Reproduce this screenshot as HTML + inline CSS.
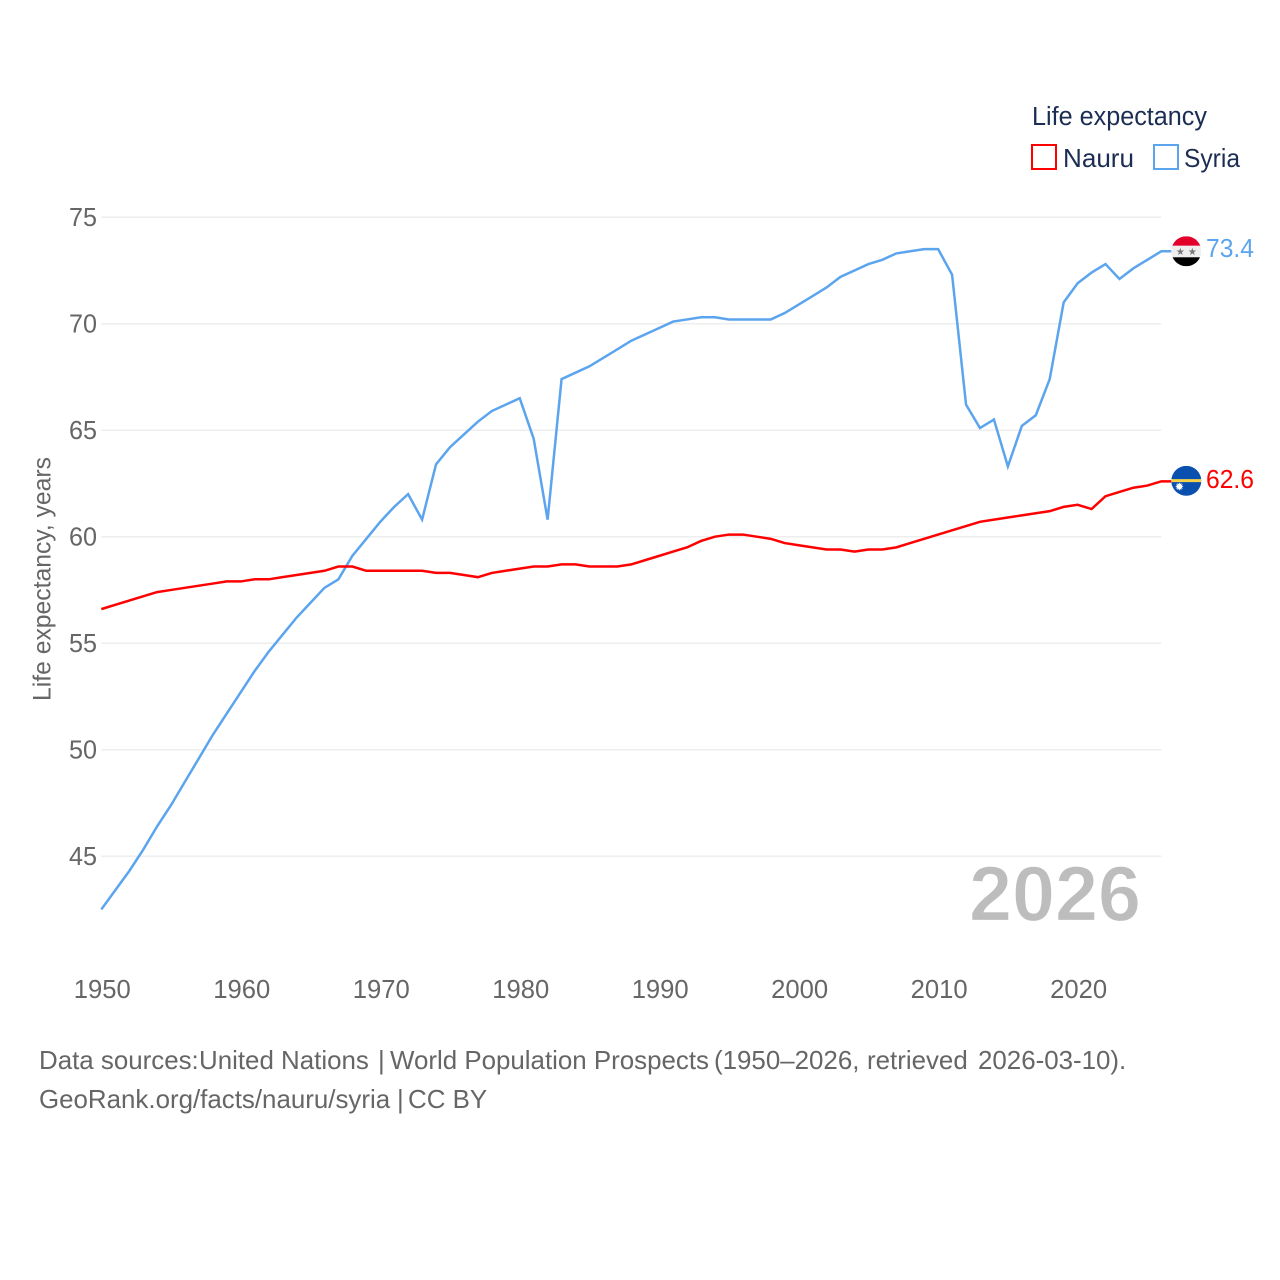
<!DOCTYPE html>
<html lang="en">
<head>
<meta charset="utf-8">
<title>Life expectancy: Nauru and Syria</title>
<style>
html,body{margin:0;padding:0;background:#fff;}
svg{display:block;}
text{font-family:"Liberation Sans",sans-serif;}
</style>
</head>
<body>
<svg id="chart" xmlns="http://www.w3.org/2000/svg" width="1280" height="1280" viewBox="0 0 1280 1280">
  <rect x="0" y="0" width="1280" height="1280" fill="#ffffff"/>
  <g id="grid"></g>
  <g id="yticks"></g>
  <g id="xticks"></g>
  <text transform="translate(50.5,701) rotate(-90)" font-size="25" fill="#666666" textLength="244" lengthAdjust="spacingAndGlyphs">Life expectancy, years</text>
  <text x="969" y="920.5" font-size="78" font-weight="700" fill="#bdbdbd" stroke="#ffffff" stroke-width="1.2" textLength="172" lengthAdjust="spacingAndGlyphs">2026</text>
  <g id="series"></g>
  <g id="flags"></g>
  <g>
    <text x="1032" y="125" font-size="25.5" fill="#1b2d52" textLength="175" lengthAdjust="spacingAndGlyphs">Life expectancy</text>
    <rect x="1032" y="145" width="24" height="24" fill="#ffffff" stroke="#ff0000" stroke-width="2"/>
    <text x="1063" y="167" font-size="26" fill="#1b2d52" textLength="71" lengthAdjust="spacingAndGlyphs">Nauru</text>
    <rect x="1154" y="145" width="24" height="24" fill="#ffffff" stroke="#5ba4ee" stroke-width="2"/>
    <text x="1184" y="167" font-size="26" fill="#1b2d52" textLength="56" lengthAdjust="spacingAndGlyphs">Syria</text>
  </g>
  <text y="1069" font-size="25.9" fill="#666666"><tspan x="39">Data sources: </tspan><tspan x="199">United Nations </tspan><tspan x="378">| </tspan><tspan x="390">World Population Prospects </tspan><tspan x="714">(1950–2026, </tspan><tspan x="867">retrieved </tspan><tspan x="978">2026-03-10).</tspan></text>
  <text y="1108" font-size="25.9" fill="#666666"><tspan x="39">GeoRank.org/facts/nauru/syria </tspan><tspan x="397">| </tspan><tspan x="408">CC BY</tspan></text>
</svg>
<script>
const years = [1950,1951,1952,1953,1954,1955,1956,1957,1958,1959,1960,1961,1962,1963,1964,1965,1966,1967,1968,1969,1970,1971,1972,1973,1974,1975,1976,1977,1978,1979,1980,1981,1982,1983,1984,1985,1986,1987,1988,1989,1990,1991,1992,1993,1994,1995,1996,1997,1998,1999,2000,2001,2002,2003,2004,2005,2006,2007,2008,2009,2010,2011,2012,2013,2014,2015,2016,2017,2018,2019,2020,2021,2022,2023,2024,2025,2026];
const syriaValues = [42.5,43.4,44.3,45.3,46.4,47.4,48.5,49.6,50.7,51.7,52.7,53.7,54.6,55.4,56.2,56.9,57.6,58.0,59.1,59.9,60.7,61.4,62.0,60.8,63.4,64.2,64.8,65.4,65.9,66.2,66.5,64.6,60.8,67.4,67.7,68.0,68.4,68.8,69.2,69.5,69.8,70.1,70.2,70.3,70.3,70.2,70.2,70.2,70.2,70.5,70.9,71.3,71.7,72.2,72.5,72.8,73.0,73.3,73.4,73.5,73.5,72.3,66.2,65.1,65.5,63.3,65.2,65.7,67.4,71.0,71.9,72.4,72.8,72.1,72.6,73.0,73.4];
const nauruValues = [56.6,56.8,57.0,57.2,57.4,57.5,57.6,57.7,57.8,57.9,57.9,58.0,58.0,58.1,58.2,58.3,58.4,58.6,58.6,58.4,58.4,58.4,58.4,58.4,58.3,58.3,58.2,58.1,58.3,58.4,58.5,58.6,58.6,58.7,58.7,58.6,58.6,58.6,58.7,58.9,59.1,59.3,59.5,59.8,60.0,60.1,60.1,60.0,59.9,59.7,59.6,59.5,59.4,59.4,59.3,59.4,59.4,59.5,59.7,59.9,60.1,60.3,60.5,60.7,60.8,60.9,61.0,61.1,61.2,61.4,61.5,61.3,61.9,62.1,62.3,62.4,62.6];
const yTickValues = [45,50,55,60,65,70,75];
const xTickValues = [1950,1960,1970,1980,1990,2000,2010,2020];

const SVG_NS = 'http://www.w3.org/2000/svg';
const plotLeft = 101.3, plotRight = 1161.3;
const yTop = 217.2, yBottom = 856.2;
const xScale = year => plotLeft + (year - years[0]) * (plotRight - plotLeft) / (years[years.length - 1] - years[0]);
const yScale = value => yTop + (75 - value) * (yBottom - yTop) / 30;

function make(tag, attrs, parent, content) {
  const el = document.createElementNS(SVG_NS, tag);
  for (const key in attrs) el.setAttribute(key, attrs[key]);
  if (content !== undefined) el.textContent = content;
  parent.appendChild(el);
  return el;
}

const gridGroup = document.getElementById('grid');
const yTickGroup = document.getElementById('yticks');
yTickValues.forEach(v => {
  const line = make('line', {x1: plotLeft, x2: plotRight, y1: yScale(v), y2: yScale(v), stroke: '#eeeeee', 'stroke-width': 1.5}, gridGroup);
  
  
  const label = make('text', {x: 69, y: yScale(v) + 9, 'font-size': 26, fill: '#666666', textLength: 28, lengthAdjust: 'spacingAndGlyphs'}, yTickGroup, String(v));
  
  
});

const xTickGroup = document.getElementById('xticks');
xTickValues.forEach(year => {
  const label = make('text', {x: xScale(year) + 1, y: 998, 'text-anchor': 'middle', 'font-size': 26, fill: '#666666', textLength: 57, lengthAdjust: 'spacingAndGlyphs'}, xTickGroup, String(year));
  
  
});

const seriesGroup = document.getElementById('series');
function linePoints(values) {
  const pts = values.map((v, i) => xScale(years[i]).toFixed(2) + ',' + yScale(v).toFixed(2));
  const last = values[values.length - 1];
  pts.push((plotRight + 10) + ',' + yScale(last).toFixed(2));
  return pts.join(' ');
}
const syriaLine = make('polyline', {points: linePoints(syriaValues), fill: 'none', stroke: '#5ba4ee', 'stroke-width': 2.5, 'stroke-linejoin': 'miter'}, seriesGroup);


const nauruLine = make('polyline', {points: linePoints(nauruValues), fill: 'none', stroke: '#ff0000', 'stroke-width': 2.5, 'stroke-linejoin': 'miter'}, seriesGroup);



const flagGroup = document.getElementById('flags');
const flagX = 1186.3, flagR = 15;
const defs = make('defs', {}, flagGroup);
const syriaLast = syriaValues[syriaValues.length - 1];
const nauruLast = nauruValues[nauruValues.length - 1];
const syriaY = yScale(syriaLast);
const nauruY = yScale(nauruLast) - 0.5;
const clipS = make('clipPath', {id: 'clip-syria'}, defs);
make('circle', {cx: flagX, cy: syriaY, r: flagR}, clipS);
const clipN = make('clipPath', {id: 'clip-nauru'}, defs);
make('circle', {cx: flagX, cy: nauruY, r: flagR}, clipN);

const syriaFlag = make('g', {'clip-path': 'url(#clip-syria)'}, flagGroup);


make('rect', {x: flagX - flagR, y: syriaY - flagR, width: 30, height: 9.5, fill: '#e2002b'}, syriaFlag);
make('rect', {x: flagX - flagR, y: syriaY - 5.5, width: 30, height: 11.5, fill: '#eeeeee'}, syriaFlag);
make('rect', {x: flagX - flagR, y: syriaY + 6, width: 30, height: 9, fill: '#000000'}, syriaFlag);
make('text', {x: flagX - 6, y: syriaY + 3.5, 'font-size': 10, 'text-anchor': 'middle', fill: '#777777', style: 'font-family:"DejaVu Sans",sans-serif'}, syriaFlag, '★');
make('text', {x: flagX + 6, y: syriaY + 3.5, 'font-size': 10, 'text-anchor': 'middle', fill: '#777777', style: 'font-family:"DejaVu Sans",sans-serif'}, syriaFlag, '★');

const nauruFlag = make('g', {'clip-path': 'url(#clip-nauru)'}, flagGroup);


make('rect', {x: flagX - flagR, y: nauruY - flagR, width: 30, height: 30, fill: '#0a50ae'}, nauruFlag);
make('rect', {x: flagX - flagR, y: nauruY - 1.7, width: 30, height: 3, fill: '#f5d24a'}, nauruFlag);
make('text', {x: flagX - 7, y: nauruY + 9.5, 'font-size': 11, 'text-anchor': 'middle', fill: '#ffffff', style: 'font-family:"DejaVu Sans",sans-serif'}, nauruFlag, '✹');

const syriaLabel = make('text', {x: 1206, y: syriaY + 5.5, 'font-size': 26, fill: '#5ba4ee', textLength: 48, lengthAdjust: 'spacingAndGlyphs'}, flagGroup, syriaLast.toFixed(1));


const nauruLabel = make('text', {x: 1206, y: nauruY + 7, 'font-size': 26, fill: '#ff0000', textLength: 48, lengthAdjust: 'spacingAndGlyphs'}, flagGroup, nauruLast.toFixed(1));


</script>
</body>
</html>
